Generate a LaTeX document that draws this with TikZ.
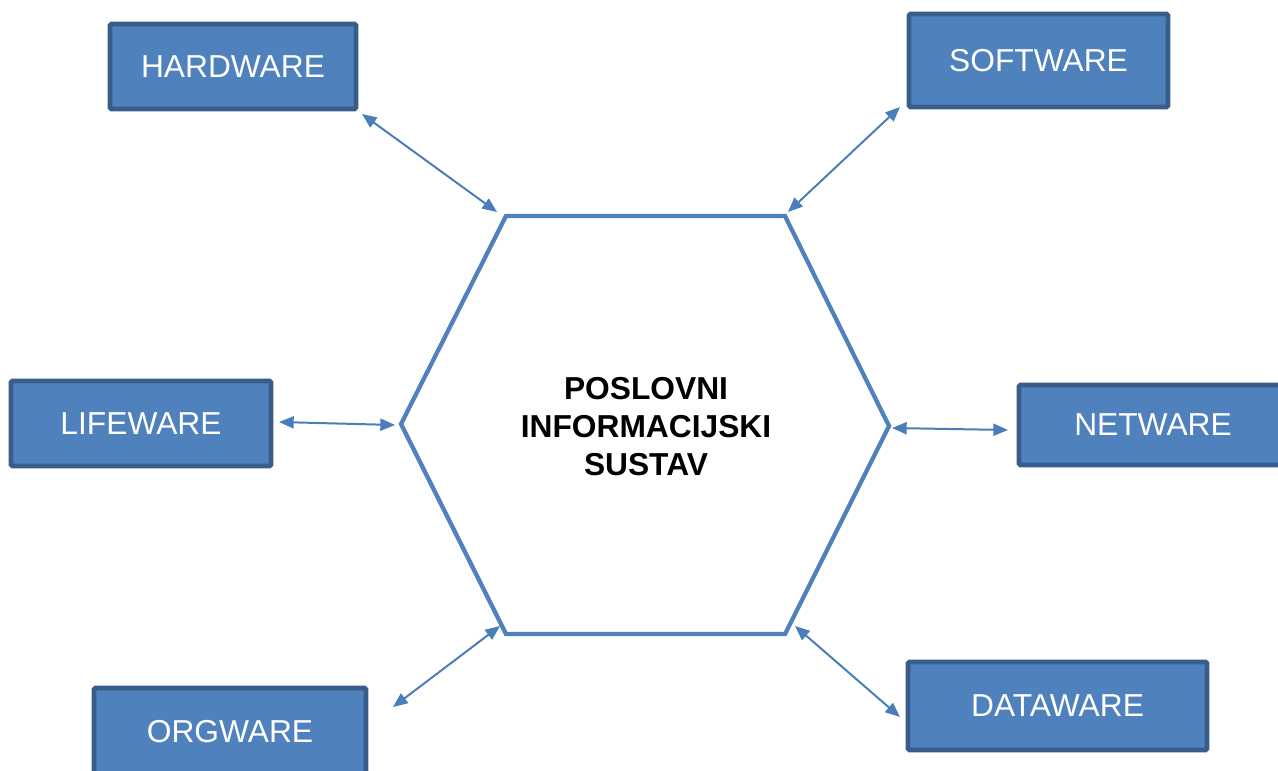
\documentclass[tikz,border=0pt]{standalone}
\usepackage{fontspec}
\setmainfont{Liberation Sans}
\usetikzlibrary{arrows.meta}
\usetikzlibrary{positioning}

\definecolor{boxfill}{HTML}{4F81BD}
\definecolor{boxline}{HTML}{385D8A}
\definecolor{arrowblue}{HTML}{4A7EBB}

\tikzset{
  warebox/.style={draw=boxline, fill=boxfill, line width=3.4pt, rounded corners=1pt,
    text=white, font=\fontsize{23.8}{28}\selectfont, inner sep=0pt},
  link/.style={draw=arrowblue, line width=1.5pt,
    {Triangle[length=11pt,width=9pt]}-{Triangle[length=11pt,width=9pt]}}
}

\begin{document}
\begin{tikzpicture}[x=0.75pt,y=-0.75pt]
     \useasboundingbox (0,0) rectangle (1278,771);

     % hexagon
     \draw[boxfill, line width=3.2pt, line join=miter]
       (506,216) -- (785,216) -- (889,426) -- (785,634) -- (506,634) -- (401,424) -- cycle;
     \node[font=\bfseries\fontsize{23.8}{28.5}\selectfont, align=center] (pis) at (646,427)
       {POSLOVNI\\INFORMACIJSKI\\SUSTAV};

     % outer boxes
     \foreach \name/\txt/\cx/\cy/\w/\h in
     {hardware/HARDWARE/233/66.5/246/85,
      software/SOFTWARE/1038.5/60.5/259/93,
      lifeware/LIFEWARE/141/423.5/260/85,
      netware/NETWARE/1153/425/268/80,
      orgware/ORGWARE/230/732/272/88,
      dataware/DATAWARE/1057.5/706/299/88}
       {
         \node[warebox, minimum width=\w*0.75pt, minimum height=\h*0.75pt]
           (\name) at (\cx,\cy) {\txt};
       }

     % arrows
     \foreach \name/\ax/\ay/\bx/\by in
     {hardware/362/114/497/212,
      software/900/107/788/212,
      lifeware/279/422/395/425,
      netware/1008/430/892/428,
      orgware/393/707/500/626,
      dataware/900/717/795/626}
       {
         \coordinate (\name-out) at (\ax,\ay);
         \coordinate (\name-in) at (\bx,\by);
         \draw[link] (\name-out) -- (\name-in);
       }
\end{tikzpicture}
\end{document}
